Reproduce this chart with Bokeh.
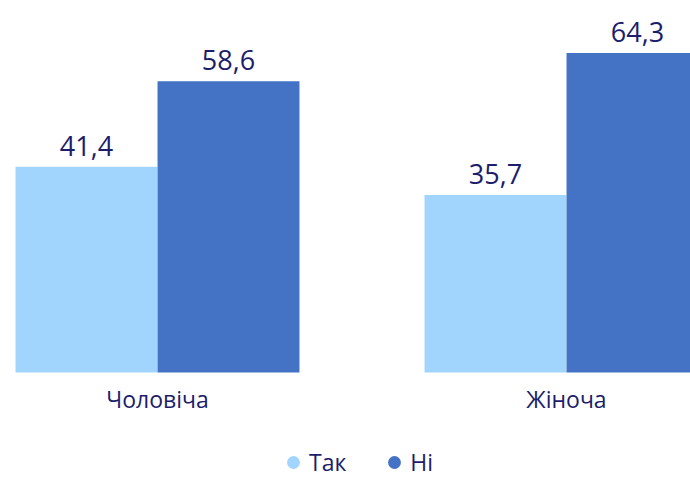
from bokeh.plotting import figure
from bokeh.models import Range1d, ColumnDataSource, FixedTicker, Legend, LegendItem
from bokeh.core.properties import value
from bokeh.embed import file_html
from bokeh.resources import INLINE

categories = ["Чоловіча", "Жіноча"]
series_names = ["Так", "Ні"]
tak = [41.4, 35.7]
ni = [58.6, 64.3]
colors = ["#a2d5fd", "#4472c4"]
text_color = "#1c1d6b"
FONT = "Open Sans"

W, H = 690, 479
PX_PER_UNIT = 4.97
BASE = 372  # pixel row of zero
p = figure(width=W, height=H, output_backend="svg", toolbar_location=None,
           x_range=Range1d(0.11614, 0.11614 + W / 409.0),
           y_range=Range1d(-(H - BASE) / PX_PER_UNIT, BASE / PX_PER_UNIT),
           min_border_left=0, min_border_right=0, min_border_top=0, min_border_bottom=0)
p.outline_line_color = None
p.grid.visible = False
p.yaxis.visible = False
p.background_fill_color = "white"
p.border_fill_color = "white"

bar_w = 0.347
offsets = [-0.1736, 0.1736]
items = []
for si, (name, vals) in enumerate(zip(series_names, [tak, ni])):
    xs = [i + 0.5 + offsets[si] for i in range(len(categories))]
    src = ColumnDataSource(dict(x=xs, top=vals,
                                lab=[f"{v:.1f}".replace(".", ",") for v in vals]))
    p.vbar(x="x", top="top", bottom=0, width=bar_w, source=src,
           fill_color=colors[si], line_color=None)
    p.text(x="x", y="top", text="lab", source=src, text_align="center",
           text_baseline="alphabetic", y_offset=-21, text_color=text_color,
           text_font=value(FONT), text_font_size="27px")
    # legend-only marker renderer (hidden on the plot)
    r = p.scatter(x="x", y="top", source=src, marker="circle", size=13,
                  fill_color=colors[si], line_color=None, visible=False)
    items.append(LegendItem(label=name, renderers=[r]))

ax = p.xaxis[0]
ax.fixed_location = 0
ax.ticker = FixedTicker(ticks=[i + 0.5 for i in range(len(categories))])
ax.major_label_overrides = {i + 0.5: c for i, c in enumerate(categories)}
ax.major_tick_line_color = None
ax.minor_tick_line_color = None
ax.axis_line_color = None
ax.major_tick_out = 0
ax.major_label_standoff = 10
ax.major_label_text_font = FONT
ax.major_label_text_font_size = "23px"
ax.major_label_text_color = text_color

legend = Legend(items=items, location=(277, 1), orientation="horizontal",
                glyph_width=32, glyph_height=32, label_standoff=0, spacing=32,
                padding=0, margin=0, border_line_color=None,
                background_fill_alpha=0, inactive_fill_alpha=0,
                click_policy="none", label_text_font=FONT,
                label_text_font_size="23px", label_text_color=text_color)
p.add_layout(legend, "center")

open("out.html", "w").write(file_html(p, INLINE))
